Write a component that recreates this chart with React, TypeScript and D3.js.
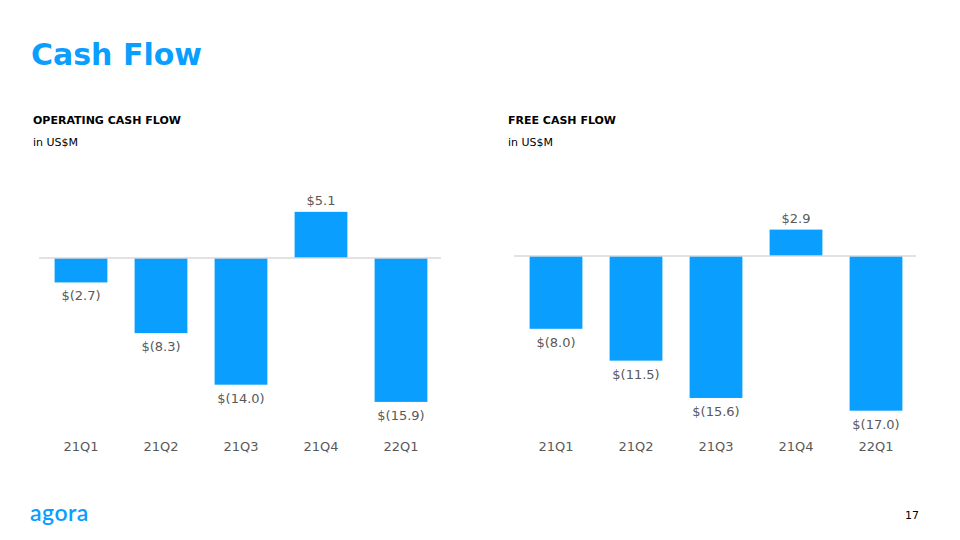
import * as d3 from "d3";

const quarters = ["21Q1", "21Q2", "21Q3", "21Q4", "22Q1"];
const operatingCashFlow = [-2.7, -8.3, -14.0, 5.1, -15.9];
const freeCashFlow = [-8.0, -11.5, -15.6, 2.9, -17.0];

const width = 960;
const height = 540;
const blue = "#0a9eff";
const font = "Verdana, 'DejaVu Sans', sans-serif";

const fmt = (v: number) =>
  v < 0 ? `$(${Math.abs(v).toFixed(1)})` : `$${v.toFixed(1)}`;

type PanelProps = {
  title: string;
  values: number[];
  left: number;
  right: number;
  zeroY: number;
  pxPerUnit: number;
};

const Panel = ({ title, values, left, right, zeroY, pxPerUnit }: PanelProps) => {
  const x = d3
    .scaleBand<string>()
    .domain(quarters)
    .range([left, right])
    .paddingInner(0.34)
    .paddingOuter(0.17);
  const y = d3
    .scaleLinear()
    .domain([0, 1])
    .range([zeroY, zeroY - pxPerUnit]);

  return (
    <g>
      <text
        x={left - 8}
        y={124}
        style={{ fontSize: "11px", fontWeight: "bold", fontFamily: font }}
        fill="#000"
      >
        {title}
      </text>
      <text
        x={left - 8}
        y={146}
        style={{ fontSize: "11px", fontFamily: font }}
        fill="#000"
      >
        in US$M
      </text>
      {values.map((v, i) => {
        const q = quarters[i];
        const y0 = y(Math.max(0, v));
        const y1 = y(Math.min(0, v));
        const cx = (x(q) ?? 0) + x.bandwidth() / 2;
        return (
          <g key={q}>
            <rect
              x={x(q)}
              y={y0}
              width={x.bandwidth()}
              height={y1 - y0}
              fill={blue}
            />
            <text
              x={cx}
              y={v >= 0 ? y0 - 7 : y1 + 18}
              textAnchor="middle"
              style={{ fontSize: "13px", fontFamily: font }}
              fill="#595959"
            >
              {fmt(v)}
            </text>
            <text
              x={cx}
              y={451}
              textAnchor="middle"
              style={{ fontSize: "13px", fontFamily: font }}
              fill="#595959"
            >
              {q}
            </text>
          </g>
        );
      })}
      <line
        x1={left - 2}
        x2={right}
        y1={zeroY}
        y2={zeroY}
        stroke="#d9d9d9"
        strokeWidth={1.5}
      />
    </g>
  );
};

const App = () => (
  <svg
    viewBox={[0, 0, width, height].join(" ")}
    width={width}
    height={height}
    style={{ position: "absolute", left: 0, top: 0, background: "#fff" }}
  >
    <text
      x={31}
      y={65}
      style={{ fontSize: "30px", fontWeight: "bold", fontFamily: font }}
      fill={blue}
    >
      Cash Flow
    </text>
    <Panel
      title="OPERATING CASH FLOW"
      values={operatingCashFlow}
      left={41}
      right={441}
      zeroY={258}
      pxPerUnit={9.05}
    />
    <Panel
      title="FREE CASH FLOW"
      values={freeCashFlow}
      left={516}
      right={916}
      zeroY={256}
      pxPerUnit={9.1}
    />
    {/* logo */}
    <text
      x={30}
      y={521}
      style={{ fontSize: "23px", fontWeight: 600, letterSpacing: "0.5px", fontFamily: "Lato, 'Open Sans', sans-serif" }}
      fill={blue}
    >
      agora
    </text>
    <text
      x={919}
      y={519}
      textAnchor="end"
      style={{ fontSize: "11px", fontFamily: font }}
      fill="#000"
    >
      17
    </text>
  </svg>
);

export default App;
